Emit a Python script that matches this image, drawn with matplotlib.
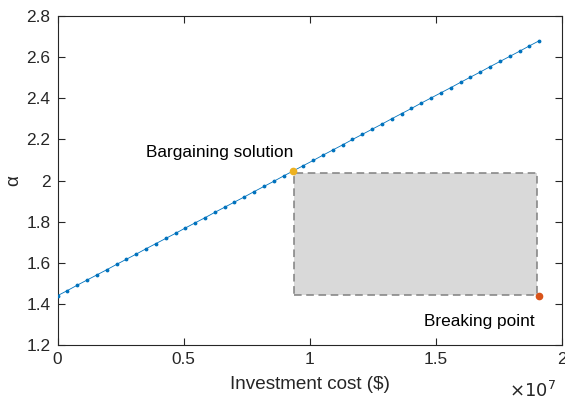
import numpy as np
import matplotlib
matplotlib.use("Agg")
import matplotlib.pyplot as plt
from matplotlib.patches import Rectangle
from matplotlib.ticker import FuncFormatter

plt.rcParams['font.family'] = ['Liberation Sans', 'DejaVu Sans']

# Investment cost grid (in units of 1e7 $) and resulting alpha
cost_e7 = [0.0000, 0.0390, 0.0780, 0.1169, 0.1559, 0.1949, 0.2339, 0.2729, 0.3118, 0.3508,
           0.3898, 0.4288, 0.4678, 0.5067, 0.5457, 0.5847, 0.6237, 0.6627, 0.7016, 0.7406,
           0.7796, 0.8186, 0.8576, 0.8965, 0.9355, 0.9745, 1.0135, 1.0525, 1.0914, 1.1304,
           1.1694, 1.2084, 1.2473, 1.2863, 1.3253, 1.3643, 1.4033, 1.4422, 1.4812, 1.5202,
           1.5592, 1.5982, 1.6371, 1.6761, 1.7151, 1.7541, 1.7931, 1.8320, 1.8710, 1.9100]
alpha = [1.441, 1.466, 1.492, 1.517, 1.542, 1.567, 1.593, 1.618, 1.643, 1.669,
         1.694, 1.719, 1.744, 1.770, 1.795, 1.820, 1.846, 1.871, 1.896, 1.921,
         1.947, 1.972, 1.997, 2.023, 2.048, 2.073, 2.098, 2.124, 2.149, 2.174,
         2.200, 2.225, 2.250, 2.275, 2.301, 2.326, 2.351, 2.377, 2.402, 2.427,
         2.452, 2.478, 2.503, 2.528, 2.554, 2.579, 2.604, 2.629, 2.655, 2.680]

bargain_cost, bargain_alpha = 0.935e7, 2.045
breaking_cost, breaking_alpha = 1.910e7, 1.441
region_x = (0.9366e7, 1.900e7)
region_y = (1.446, 2.039)

x_ticks = [0, 0.5e7, 1.0e7, 1.5e7, 2.0e7]
y_ticks = [1.2, 1.4, 1.6, 1.8, 2.0, 2.2, 2.4, 2.6, 2.8]

cost = np.array(cost_e7) * 1e7

fig = plt.figure(figsize=(5.65, 4.01), dpi=100)
ax = fig.add_axes([0.1018, 0.1389, 0.8929, 0.8212])

dark = '#262626'

ax.add_patch(Rectangle((region_x[0], region_y[0]), region_x[1] - region_x[0],
                       region_y[1] - region_y[0], facecolor='#d9d9d9',
                       edgecolor='#808080', linestyle=(0, (5, 3)), linewidth=1.1, zorder=1))

ax.plot(cost, alpha, color='#0072BD', linewidth=0.6, marker='.', markersize=3.5, zorder=3)
ax.plot([bargain_cost], [bargain_alpha], 'o', color='#EDB120', markersize=4.5, zorder=4)
ax.plot([breaking_cost], [breaking_alpha], 'o', color='#D95319', markersize=4.5, zorder=4)

ax.text(0.3505e7, 2.139, 'Bargaining solution', fontsize=12.4, color='black', va='center', ha='left')
ax.text(1.4515e7, 1.318, 'Breaking point', fontsize=12.4, color='black', va='center', ha='left')

ax.set_xlim(0, 2e7)
ax.set_ylim(1.2, 2.8)
ax.set_xticks(x_ticks)
ax.set_yticks(y_ticks)
ax.xaxis.set_major_formatter(FuncFormatter(lambda v, p: f'{v / 1e7:g}'))
ax.yaxis.set_major_formatter(FuncFormatter(lambda v, p: f'{v:g}'))

ax.tick_params(direction='in', length=5, width=0.8, colors=dark, labelsize=12.4,
               top=True, right=True, pad=5)
for s in ax.spines.values():
    s.set_color(dark)
    s.set_linewidth(0.8)

ax.set_xlabel('Investment cost ($)', fontsize=13.6, color=dark, labelpad=6)
ax.set_ylabel('α', fontsize=13.6, color=dark, labelpad=3)

ax.text(0.9885, -0.157, r'$\times10^{7}$', transform=ax.transAxes, ha='right',
        va='baseline', fontsize=13, color=dark, math_fontfamily='custom')

fig.savefig('out.png', dpi=100)
